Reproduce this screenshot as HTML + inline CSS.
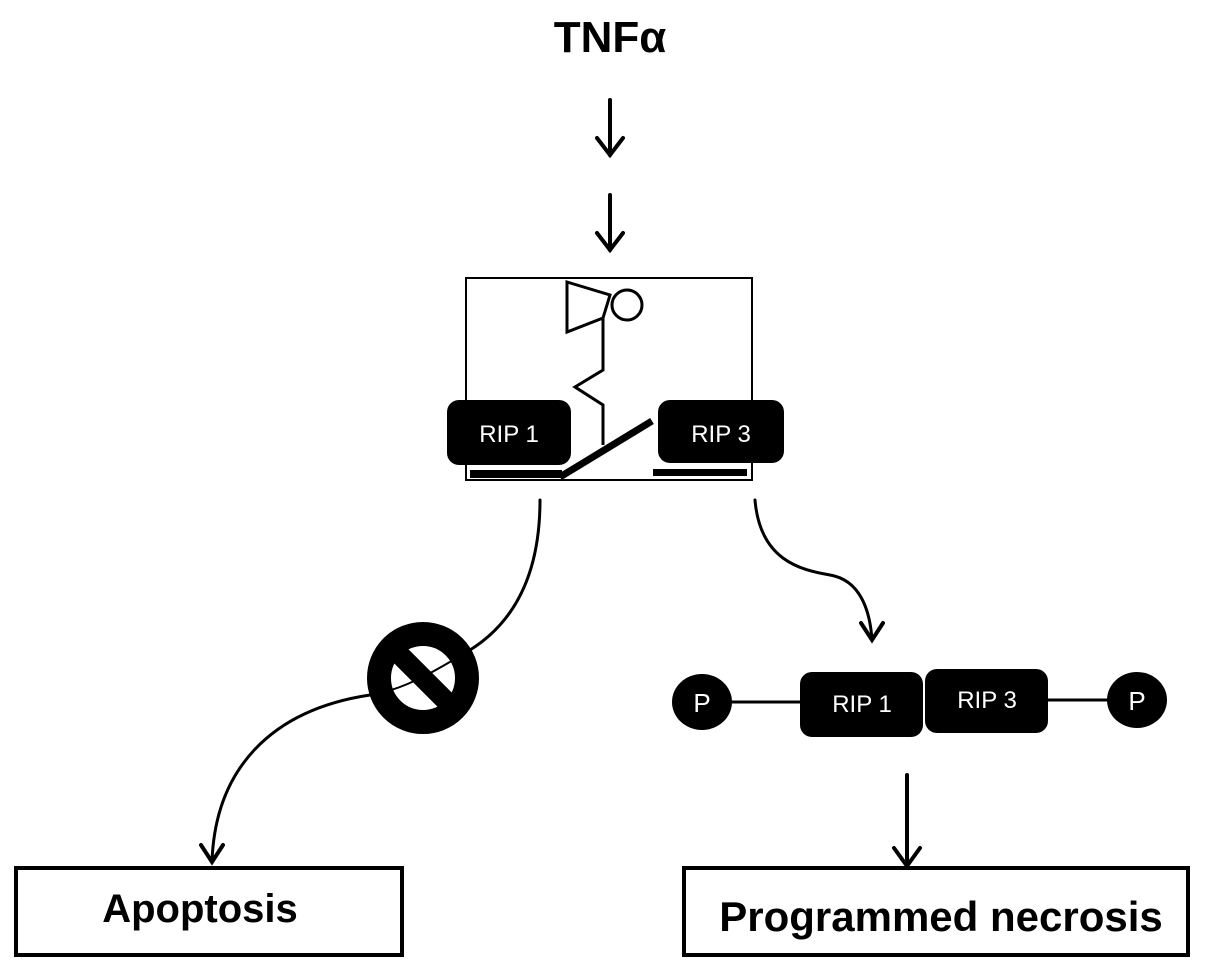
<!DOCTYPE html>
<html><head><style>
body{margin:0;background:#fff;}
svg{display:block;}
text{font-family:"Liberation Sans",Arial,sans-serif;}
</style></head><body>
<svg width="1205" height="969" viewBox="0 0 1205 969" xmlns="http://www.w3.org/2000/svg">
<text x="610" y="52" font-size="44" font-weight="bold" text-anchor="middle">TNFα</text>
<g stroke="#000" stroke-width="4" fill="none" stroke-linecap="round">
<line x1="610" y1="100" x2="610" y2="155"/>
<polyline points="597,138 610,155 623,138"/>
<line x1="610" y1="195" x2="610" y2="250"/>
<polyline points="597,233 610,250 623,233"/>
</g>
<rect x="466" y="278" width="286" height="202" fill="#fff" stroke="#000" stroke-width="2"/>
<polygon points="567,282 610,295 603,318 567,332" fill="#fff" stroke="#000" stroke-width="3"/>
<circle cx="627" cy="305" r="15" fill="#fff" stroke="#000" stroke-width="3"/>
<polyline points="603,318 603,370 575,387 603,405 603,445" fill="none" stroke="#000" stroke-width="3"/>
<rect x="447" y="400" width="124" height="65" rx="12" fill="#000"/>
<rect x="658" y="400" width="126" height="63" rx="12" fill="#000"/>
<text x="509" y="442" font-size="24" fill="#fff" text-anchor="middle">RIP 1</text>
<text x="721" y="442" font-size="24" fill="#fff" text-anchor="middle">RIP 3</text>
<rect x="470" y="470" width="92" height="8" fill="#000"/>
<line x1="560" y1="477" x2="652" y2="421" stroke="#000" stroke-width="7"/>
<rect x="653" y="469" width="94" height="7" fill="#000"/>
<g stroke="#000" stroke-width="3" fill="none" stroke-linecap="round">
<path d="M540,500 C540,580 510,625 470,650"/>
<path d="M470,650 C440,668 405,690 370,695" stroke-width="2"/>
<path d="M370,695 C270,710 215,770 212,862"/>
<polyline points="201,845 212,862 223,845" stroke-width="4"/>
<path d="M755,500 C760,560 800,570 830,575 C860,580 870,610 872,640"/>
<polyline points="861,623 872,640 883,623" stroke-width="4"/>
<line x1="907" y1="775" x2="907" y2="866" stroke-width="4"/>
<polyline points="894,848 907,866 920,848" stroke-width="4"/>
</g>
<circle cx="423" cy="678" r="44" fill="none" stroke="#000" stroke-width="24"/>
<line x1="395" y1="650" x2="451" y2="706" stroke="#000" stroke-width="20"/>
<line x1="730" y1="702" x2="805" y2="702" stroke="#000" stroke-width="3"/>
<line x1="1045" y1="700" x2="1112" y2="700" stroke="#000" stroke-width="3"/>
<ellipse cx="702" cy="702" rx="30" ry="28" fill="#000"/>
<ellipse cx="1137" cy="700" rx="30" ry="28" fill="#000"/>
<text x="702" y="712" font-size="26" fill="#fff" text-anchor="middle">P</text>
<text x="1137" y="710" font-size="26" fill="#fff" text-anchor="middle">P</text>
<rect x="800" y="672" width="123" height="65" rx="12" fill="#000"/>
<rect x="925" y="669" width="123" height="64" rx="12" fill="#000"/>
<text x="862" y="712" font-size="24" fill="#fff" text-anchor="middle">RIP 1</text>
<text x="987" y="708" font-size="24" fill="#fff" text-anchor="middle">RIP 3</text>
<rect x="16" y="868" width="386" height="87" fill="#fff" stroke="#000" stroke-width="4"/>
<text x="200" y="922" font-size="40" font-weight="bold" text-anchor="middle">Apoptosis</text>
<rect x="684" y="868" width="504" height="87" fill="#fff" stroke="#000" stroke-width="4"/>
<text x="941" y="931" font-size="42" font-weight="bold" text-anchor="middle">Programmed necrosis</text>
</svg>
</body></html>
